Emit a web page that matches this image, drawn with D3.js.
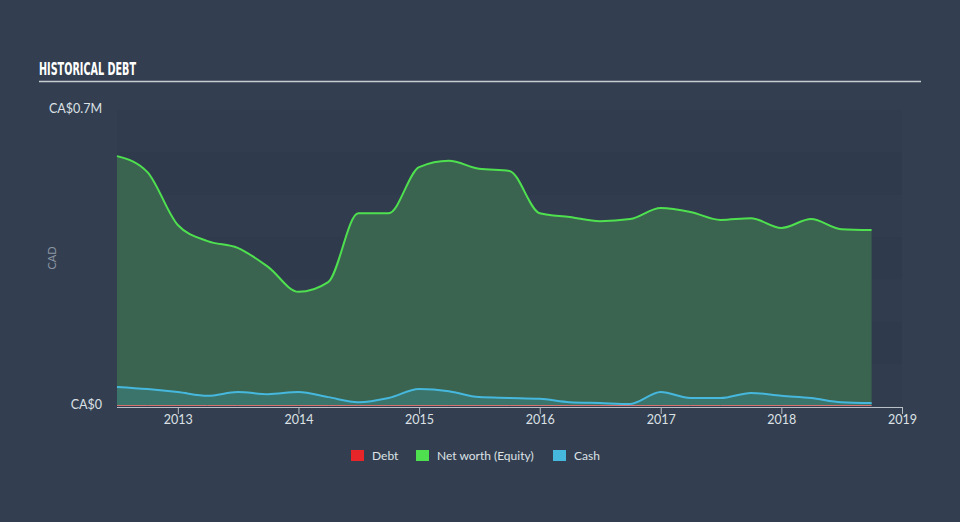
<!DOCTYPE html>
<html><head><meta charset="utf-8">
<script src="https://cdn.jsdelivr.net/npm/d3@7"></script>
<style>
html,body{margin:0;padding:0;background:#333f50;}
svg{display:block;}
</style></head>
<body>
<svg id="c" width="960" height="522"></svg>
<script>
const dates = ["2012-07-01","2012-10-01","2013-01-01","2013-04-01","2013-07-01","2013-10-01","2014-01-01","2014-04-01","2014-07-01","2014-10-01","2015-01-01","2015-04-01","2015-07-01","2015-10-01","2016-01-01","2016-04-01","2016-07-01","2016-10-01","2017-01-01","2017-04-01","2017-07-01","2017-10-01","2018-01-01","2018-04-01","2018-07-01","2018-10-01"];
const netWorth = [0.591,0.553,0.428,0.390,0.374,0.329,0.270,0.293,0.456,0.456,0.565,0.580,0.561,0.556,0.456,0.447,0.437,0.442,0.468,0.459,0.440,0.444,0.421,0.442,0.418,0.416];
const cash = [0.045,0.040,0.033,0.024,0.033,0.028,0.033,0.021,0.009,0.019,0.040,0.035,0.021,0.019,0.017,0.009,0.007,0.005,0.033,0.019,0.019,0.031,0.024,0.019,0.009,0.007];
const debt = dates.map(() => 0);
const yTicks = [0, 0.7];
const yTickLabels = ["CA$0", "CA$0.7M"];
const xTickYears = [2013,2014,2015,2016,2017,2018,2019];
const legendItems = [["Debt","#e8262a"],["Net worth (Equity)","#4fe04f"],["Cash","#46b8de"]];

const parse = d3.timeParse("%Y-%m-%d");
const T = dates.map(parse);
const svg = d3.select("#c");
const L = 117, R = 902, TOP = 110, B = 406;
const x = d3.scaleTime().domain([new Date(2012,6,1), new Date(2019,0,1)]).range([L, R]);
const y = d3.scaleLinear().domain([0, 0.7]).range([B, TOP]);

// title
svg.append("text").attr("x", 39).attr("y", 75).text("HISTORICAL DEBT")
  .attr("fill", "#ffffff").attr("font-family", "'DejaVu Sans Condensed','Liberation Sans',sans-serif")
  .attr("font-weight", "bold").attr("font-size", 17)
  .attr("textLength", 97).attr("lengthAdjust", "spacingAndGlyphs");
svg.append("line").attr("x1", 39).attr("x2", 921).attr("y1", 81.5).attr("y2", 81.5)
  .attr("stroke", "#c8ccd2").attr("stroke-width", 1.5);

// bands
const bandVals = d3.range(0, 0.7, 0.1);
svg.append("g").selectAll("rect").data(bandVals).join("rect")
  .attr("x", L).attr("width", R - L)
  .attr("y", d => y(d + 0.1)).attr("height", d => y(d) - y(d + 0.1))
  .attr("fill", (d, i) => i % 2 === 0 ? "#313d4e" : "#2f3b4c");

const data = T.map((t, i) => ({t, nw: netWorth[i], c: cash[i], d: debt[i]}));
const curve = d3.curveMonotoneX;

svg.append("path").datum(data)
  .attr("d", d3.area().x(d => x(d.t)).y0(y(0)).y1(d => y(d.nw)).curve(curve))
  .attr("fill", "#3a6450");
svg.append("path").datum(data)
  .attr("d", d3.area().x(d => x(d.t)).y0(y(0)).y1(d => y(d.c)).curve(curve))
  .attr("fill", "#3c7a74").attr("fill-opacity", 0.75);
svg.append("path").datum(data)
  .attr("d", d3.line().x(d => x(d.t)).y(d => y(d.nw)).curve(curve))
  .attr("fill", "none").attr("stroke", "#4fe04f").attr("stroke-width", 2);
svg.append("path").datum(data)
  .attr("d", d3.line().x(d => x(d.t)).y(d => y(d.c)).curve(curve))
  .attr("fill", "none").attr("stroke", "#46b8de").attr("stroke-width", 2);
svg.append("path").datum(data)
  .attr("d", d3.line().x(d => x(d.t)).y(d => y(d.d) - 0.5).curve(curve))
  .attr("fill", "none").attr("stroke", "#d8706e").attr("stroke-width", 1);

// x axis
const xa = svg.append("g").attr("transform", `translate(0,${B + 1})`)
  .call(d3.axisBottom(x).tickValues(xTickYears.map(yr => new Date(yr,0,1))).tickFormat(d3.timeFormat("%Y")).tickSize(7).tickSizeOuter(0));
xa.select(".domain").attr("stroke", "#b9bfc7").attr("d", `M${L},0.5H${R}`);
xa.selectAll(".tick line").attr("stroke", "#b9bfc7");
xa.selectAll(".tick text").attr("fill", "#dde1e6").attr("font-size", 12.5)
  .attr("font-family", "Lato, 'Open Sans', sans-serif").attr("dy", "0.71em").attr("y", 8);

// y labels
svg.append("g").selectAll("text").data(yTicks).join("text")
  .attr("x", 102).attr("y", d => y(d) + 3).attr("text-anchor", "end")
  .attr("fill", "#dde1e6").attr("font-size", 12.5).attr("font-family", "Lato, 'Open Sans', sans-serif")
  .text((d, i) => yTickLabels[i]);
svg.append("text").attr("transform", "translate(56,258) rotate(-90)").attr("text-anchor", "middle")
  .attr("fill", "#8c96a3").attr("font-size", 11).attr("font-family", "Lato, 'Open Sans', sans-serif").text("CAD");

// legend
const lx = [351, 416, 553];
const lg = svg.append("g").selectAll("g").data(legendItems).join("g")
  .attr("transform", (d, i) => `translate(${lx[i]},450)`);
lg.append("rect").attr("width", 13).attr("height", 11).attr("fill", d => d[1]);
lg.append("text").attr("x", 21).attr("y", 10).text(d => d[0])
  .attr("fill", "#dde1e6").attr("font-size", 12).attr("font-family", "Lato, 'Open Sans', sans-serif");
</script>
</body></html>
